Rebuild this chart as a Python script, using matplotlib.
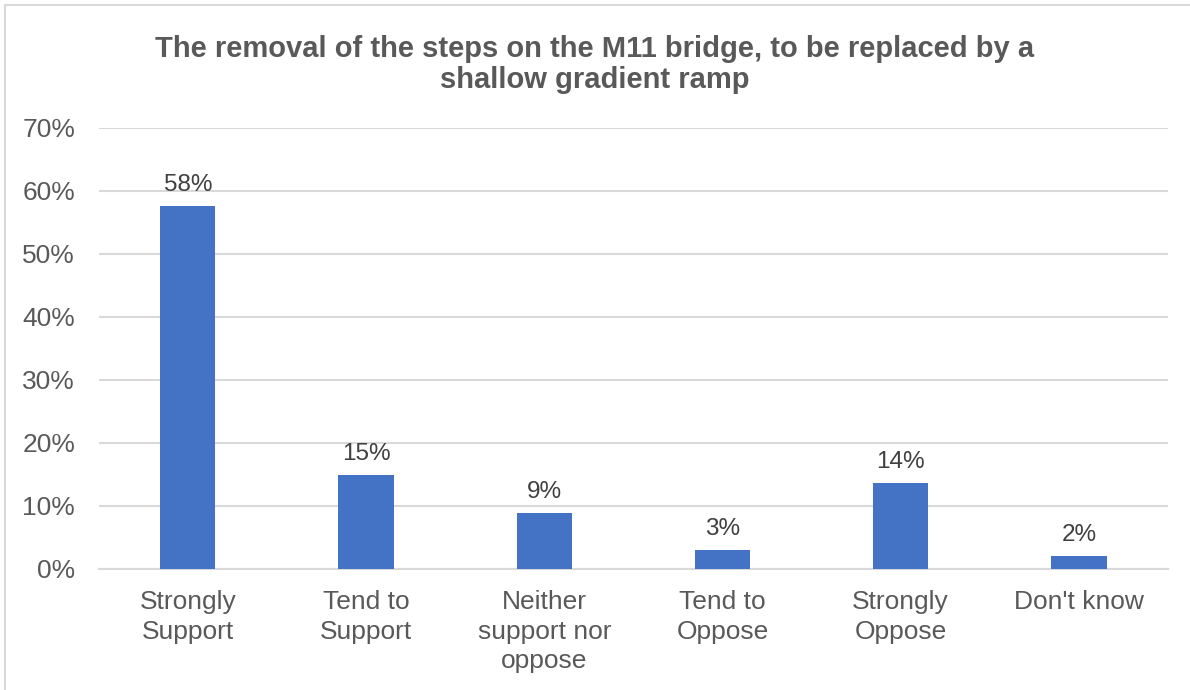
import matplotlib.pyplot as plt
from matplotlib.patches import Rectangle
from matplotlib.ticker import PercentFormatter

categories = ['Strongly\nSupport', 'Tend to\nSupport', 'Neither\nsupport nor\noppose',
              'Tend to\nOppose', 'Strongly\nOppose', "Don't know"]
shares = [57.6, 14.9, 8.9, 3.0, 13.6, 2.1]
y_ticks = [0, 10, 20, 30, 40, 50, 60, 70]

plt.rcParams['font.family'] = ['Liberation Sans', 'DejaVu Sans']

fig = plt.figure(figsize=(11.9, 6.9), dpi=100)
ax = fig.add_axes([0.083, 0.1754, 0.8985, 0.6391])

# chart frame, only top and left edges are in view
fig.patches.append(Rectangle((5 / 1190, -0.1), 1.2, (685 / 690) + 0.1,
                             transform=fig.transFigure, fill=False,
                             edgecolor='#d9d9d9', linewidth=1.5))

x = range(len(categories))
bars = ax.bar(x, shares, width=0.31, color='#4472c4', zorder=3)

for bar, v in zip(bars, shares):
    ax.text(bar.get_x() + bar.get_width() / 2, v + 1.6, f'{v:.0f}%',
            ha='center', va='bottom', fontsize=17.5, color='#404040')

ax.set_xlim(-0.5, len(categories) - 0.5)
ax.set_ylim(0, 70)
ax.set_yticks(y_ticks)
ax.yaxis.set_major_formatter(PercentFormatter(decimals=0))
ax.set_xticks(list(x))
ax.set_xticklabels(categories, fontsize=19, color='#595959', linespacing=1.3)
ax.tick_params(axis='y', labelsize=19, labelcolor='#595959', length=0, pad=17)
ax.tick_params(axis='x', length=0, pad=15)

ax.grid(axis='y', color='#d9d9d9', linewidth=1.5, zorder=0)
for side in ['top', 'right', 'left']:
    ax.spines[side].set_visible(False)
ax.spines['bottom'].set_color('#d9d9d9')
ax.spines['bottom'].set_linewidth(1.5)

fig.text(0.5, 0.907, 'The removal of the steps on the M11 bridge, to be replaced by a\nshallow gradient ramp',
         ha='center', va='center', fontsize=21, fontweight='bold', color='#595959',
         linespacing=1.15)

fig.savefig('out.png', dpi=100)
